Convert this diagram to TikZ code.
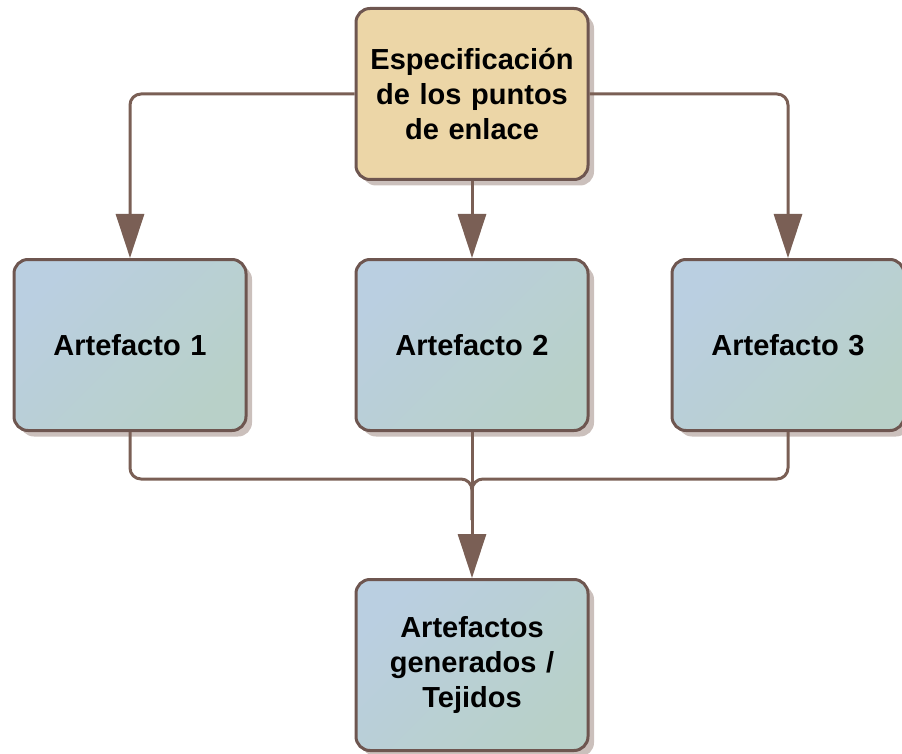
\documentclass[tikz,border=0pt]{standalone}
\usepackage{fontspec}
\setmainfont{Liberation Sans}
\usetikzlibrary{arrows.meta}
\definecolor{tanfill}{HTML}{ECD6A7}
\definecolor{bluetl}{HTML}{BACFE1}
\definecolor{bluebr}{HTML}{B8D0C8}
\definecolor{edgec}{HTML}{6E5650}
\definecolor{linec}{HTML}{7A5F55}
\definecolor{shadowc}{HTML}{CBC0BC}
\tikzset{
  boxbase/.style={draw=edgec, line width=3pt, rounded corners=14pt, minimum width=232pt, minimum height=171pt, inner sep=0pt, align=center, text width=224pt, font=\bfseries\fontsize{29}{35}\selectfont},
  tanbox/.style={boxbase, fill=tanfill},
  bluebox/.style={boxbase, top color=bluetl, bottom color=bluebr, shading angle=45},
  conn/.style={draw=linec, line width=3pt, rounded corners=11pt},
  arr/.style={conn, -{Triangle[width=28pt,length=44pt]}},
}
\begin{document}
\begin{tikzpicture}[x=1pt,y=-1pt]
\useasboundingbox (0,0) rectangle (902,754);
% shadows
\foreach \cx/\cy in {472/94, 130/345, 472/345, 788/345, 472/665}{
  \fill[shadowc, rounded corners=14pt] (\cx-116+6,\cy-85.5+6) rectangle (\cx+116+6,\cy+85.5+6);
}
\node[tanbox] (spec) at (472,94) {Especificación\\de los puntos\\de enlace};
\node[bluebox] (a1) at (130,345) {Artefacto 1};
\node[bluebox] (a2) at (472,345) {Artefacto 2};
\node[bluebox] (a3) at (788,345) {Artefacto 3};
\node[bluebox] (gen) at (472,665) {Artefactos\\generados /\\Tejidos};
\coordinate (join) at (472,520);
\draw[arr] (spec.west) -| (a1.north);
\draw[arr] (spec.east) -| (a3.north);
\draw[arr] (spec.south) -- (a2.north);
\draw[conn] (a1.south) |- (472,479) -- (join);
\draw[conn] (a3.south) |- (472,479) -- (join);
\draw[arr] (a2.south) -- (gen.north);
\end{tikzpicture}
\end{document}
